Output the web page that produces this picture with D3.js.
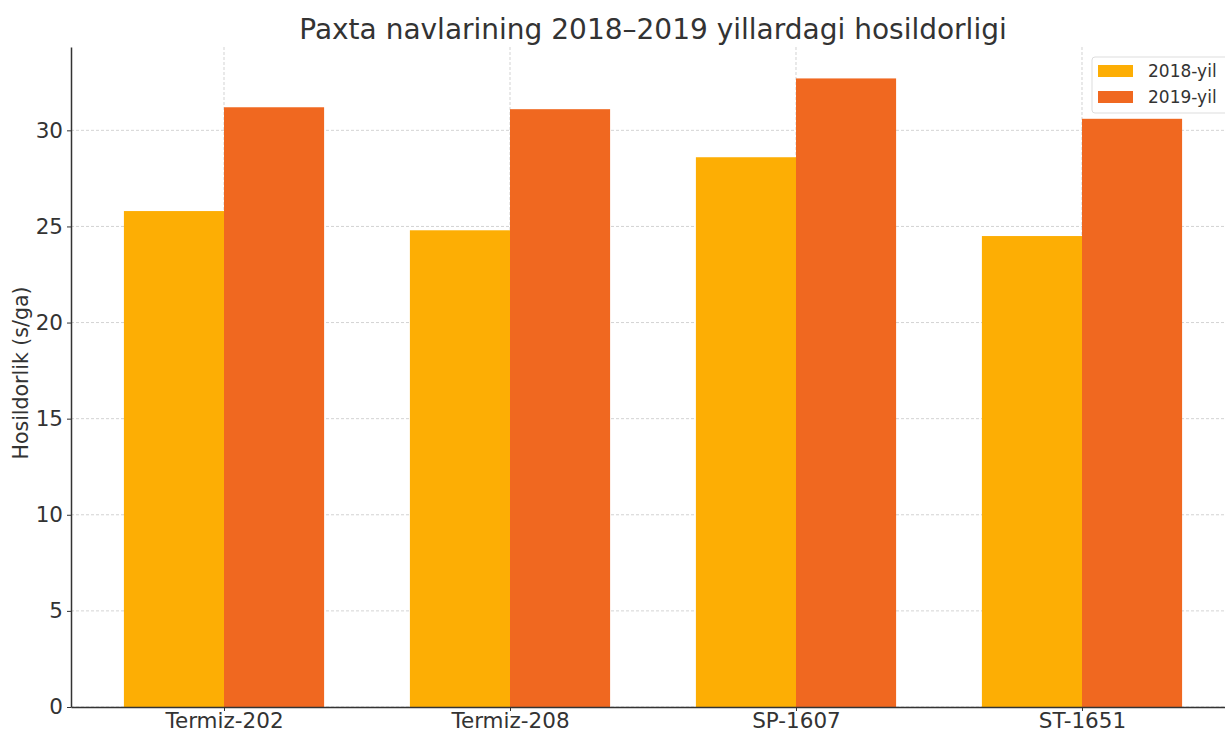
<!DOCTYPE html>
<html>
<head>
<meta charset="utf-8">
<script src="https://cdn.jsdelivr.net/npm/d3@7"></script>
<style>
  body { margin: 0; background: #fff; }
  text { font-family: "DejaVu Sans", sans-serif; fill: #333; }
</style>
</head>
<body>
<div id="chart"></div>
<script>
const categories = ['Termiz-202', 'Termiz-208', 'SP-1607', 'ST-1651'];
const series_names = ['2018-yil', '2019-yil'];
const values_2018 = [25.8, 24.8, 28.6, 24.5];
const values_2019 = [31.2, 31.1, 32.7, 30.6];
const y_ticks = [0, 5, 10, 15, 20, 25, 30];
const colors = ['#fdae04', '#f06820'];

const svg_width = 1225, svg_height = 730;
const margin = { top: 47, right: -10, bottom: 23, left: 71 },
  width = svg_width - margin.left - margin.right,
  height = svg_height - margin.top - margin.bottom;

const svg = d3.select('#chart')
  .append('svg')
  .attr('width', svg_width)
  .attr('height', svg_height);

const g = svg.append('g')
  .attr('transform', 'translate(' + margin.left + ',' + margin.top + ')');

// numeric x like matplotlib: category index, bars at +-0.35/2
const bar_w = 0.35;
const x = d3.scaleLinear()
  .domain([-0.535, 3.535])
  .range([0, width]);

const y = d3.scaleLinear()
  .domain([0, 34.335])
  .range([height, 0]);

// grid
g.append('g')
  .selectAll('line')
  .data(y_ticks)
  .enter()
  .append('line')
  .attr('x1', 0).attr('x2', width)
  .attr('y1', d => y(d)).attr('y2', d => y(d))
  .attr('stroke', '#c8c8c8')
  .attr('stroke-width', 0.8)
  .attr('stroke-dasharray', '3,2');

g.append('g')
  .selectAll('line')
  .data(categories)
  .enter()
  .append('line')
  .attr('x1', (d, i) => x(i)).attr('x2', (d, i) => x(i))
  .attr('y1', 0).attr('y2', height)
  .attr('stroke', '#c8c8c8')
  .attr('stroke-width', 0.8)
  .attr('stroke-dasharray', '3,2');

// bars
const all_series = [values_2018, values_2019];
all_series.forEach(function (vals, s) {
  g.append('g')
    .selectAll('rect')
    .data(vals)
    .enter()
    .append('rect')
    .attr('x', (d, i) => x(i + (s === 0 ? -bar_w : 0)))
    .attr('y', d => y(d))
    .attr('width', x(bar_w) - x(0))
    .attr('height', d => height - y(d))
    .attr('fill', colors[s]);
});

// axes
const x_axis = g.append('g')
  .attr('transform', 'translate(0,' + height + ')')
  .call(d3.axisBottom(x).tickValues([0, 1, 2, 3])
    .tickFormat(i => categories[i]).tickSize(4).tickSizeOuter(0));
x_axis.select('.domain').attr('stroke', '#333').attr('stroke-width', 1.5);
x_axis.selectAll('.tick line').attr('stroke', '#333');
x_axis.selectAll('.tick text')
  .attr('font-size', 21.5)
  .attr('dy', '0.78em')
  .attr('y', 4)
  .style('fill', '#333');

const y_axis = g.append('g')
  .call(d3.axisLeft(y).tickValues(y_ticks).tickSize(4).tickSizeOuter(0));
y_axis.select('.domain').attr('stroke', '#333').attr('stroke-width', 1.5);
y_axis.selectAll('.tick line').attr('stroke', '#333');
y_axis.selectAll('.tick text')
  .attr('font-size', 21.5)
  .attr('x', -8)
  .style('fill', '#333');

// title and y label
svg.append('text')
  .attr('x', margin.left + x(1.5))
  .attr('y', 39)
  .attr('text-anchor', 'middle')
  .attr('font-size', 28)
  .text('Paxta navlarining 2018–2019 yillardagi hosildorligi');

svg.append('text')
  .attr('transform', 'rotate(-90)')
  .attr('x', -(margin.top + height / 2) + 4)
  .attr('y', 28)
  .attr('text-anchor', 'middle')
  .attr('font-size', 20.5)
  .text('Hosildorlik (s/ga)');

// legend
const legend = svg.append('g')
  .attr('transform', 'translate(1092,57)');
legend.append('rect')
  .attr('width', 145).attr('height', 56)
  .attr('rx', 3)
  .attr('fill', '#fff').attr('fill-opacity', 0.85)
  .attr('stroke', '#ddd');
series_names.forEach(function (name, i) {
  legend.append('rect')
    .attr('x', 6).attr('y', 8 + i * 26)
    .attr('width', 35).attr('height', 12)
    .attr('fill', colors[i]);
  legend.append('text')
    .attr('x', 56).attr('y', 20 + i * 26)
    .attr('font-size', 17)
    .text(name);
});
</script>
</body>
</html>
